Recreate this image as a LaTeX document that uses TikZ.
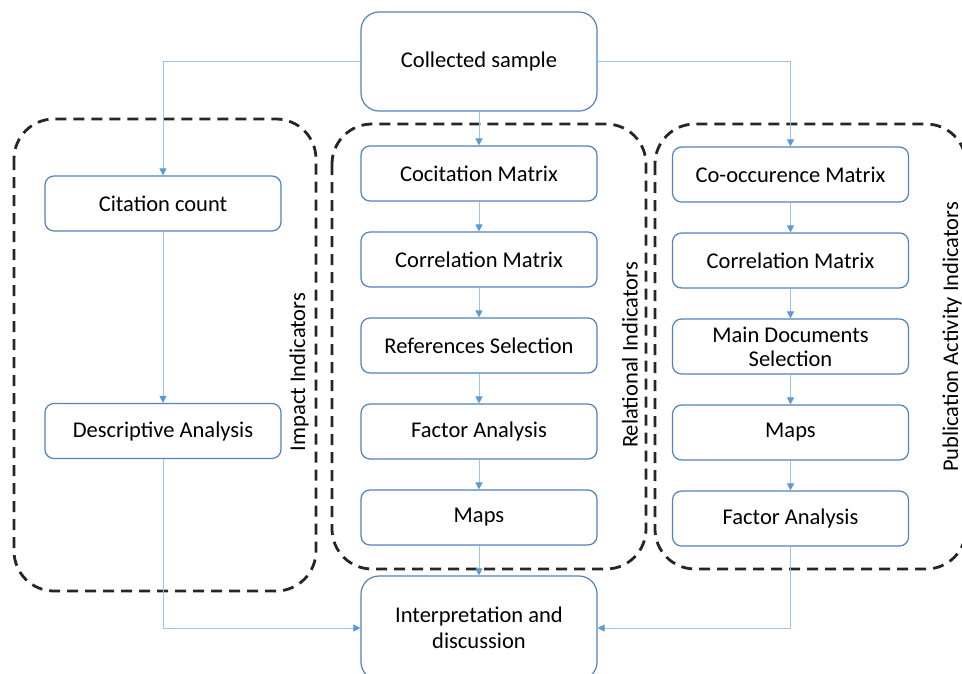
\documentclass[tikz,border=0pt]{standalone}
\usepackage{fontspec}
\setmainfont{Carlito}
\usetikzlibrary{arrows.meta}
\definecolor{boxline}{RGB}{84,130,190}
\definecolor{conline}{RGB}{157,195,230}
\definecolor{tipcol}{RGB}{91,155,213}
\definecolor{dashcol}{RGB}{38,38,38}
\begin{document}
\begin{tikzpicture}[x=1pt,y=-1pt,
  every node/.style={font=\fontsize{22.5}{27}\selectfont},
  stepbox/.style={draw=boxline,line width=1.2pt,rounded corners=9pt,fill=white,
    minimum width=236pt,minimum height=55pt,inner sep=0pt,align=center},
  bigbox/.style={stepbox,rounded corners=18pt},
  group/.style={draw=dashcol,line width=2.8pt,dash pattern=on 11pt off 7pt,rounded corners=40pt},
  conn/.style={draw=conline,line width=1pt,-{Triangle[width=7pt,length=7pt,fill=tipcol,color=tipcol]}},
  grouplabel/.style={rotate=90,inner sep=0pt}]
\useasboundingbox (0,0) rectangle (962,673);
\fill[white] (0,0) rectangle (962,673);
% groups
\draw[group] (14,119) rectangle (316,591);
\draw[group] (332,124) rectangle (646,569);
\draw[group] (655,124) rectangle (966,569);
% labels
\node[grouplabel] (lab1) at (299,372) {Impact Indicators};
\node[grouplabel] (lab2) at (630,355) {Relational Indicators};
\node[grouplabel] (lab3) at (952,337) {Publication Activity Indicators};
% boxes
\node[bigbox,minimum height=99pt] (coll) at (479,61.5) {Collected sample};
\node[stepbox] (cit) at (163,203.5) {Citation count};
\node[stepbox] (desc) at (163,431) {Descriptive Analysis};
\node[stepbox] (m1) at (479,173.5) {Cocitation Matrix};
\node[stepbox] (m2) at (479,259.5) {Correlation Matrix};
\node[stepbox] (m3) at (479,345.5) {References Selection};
\node[stepbox] (m4) at (479,431.5) {Factor Analysis};
\node[stepbox] (m5) at (479,517.5) {Maps};
\node[stepbox] (r1) at (790.5,174.5) {Co-occurence Matrix};
\node[stepbox] (r2) at (790.5,260.5) {Correlation Matrix};
\node[stepbox] (r3) at (790.5,346.5) {Main Documents\\[-3pt]Selection};
\node[stepbox] (r4) at (790.5,432.5) {Maps};
\node[stepbox] (r5) at (790.5,518.5) {Factor Analysis};
\node[bigbox,minimum height=104pt] (interp) at (479,628) {Interpretation and\\[-1pt]discussion};
% connectors
\draw[conn] (coll.west) -| (cit.north);
\draw[conn] (coll.east) -| (r1.north);
\draw[conn] (coll.south) -- (m1.north);
\draw[conn] (cit.south) -- (desc.north);
\draw[conn] (m1.south) -- (m2.north);
\draw[conn] (m2.south) -- (m3.north);
\draw[conn] (m3.south) -- (m4.north);
\draw[conn] (m4.south) -- (m5.north);
\draw[conn] (m5.south) -- (interp.north);
\draw[conn] (r1.south) -- (r2.north);
\draw[conn] (r2.south) -- (r3.north);
\draw[conn] (r3.south) -- (r4.north);
\draw[conn] (r4.south) -- (r5.north);
\draw[conn] (desc.south) |- (interp.west);
\draw[conn] (r5.south) |- (interp.east);
\end{tikzpicture}
\end{document}
